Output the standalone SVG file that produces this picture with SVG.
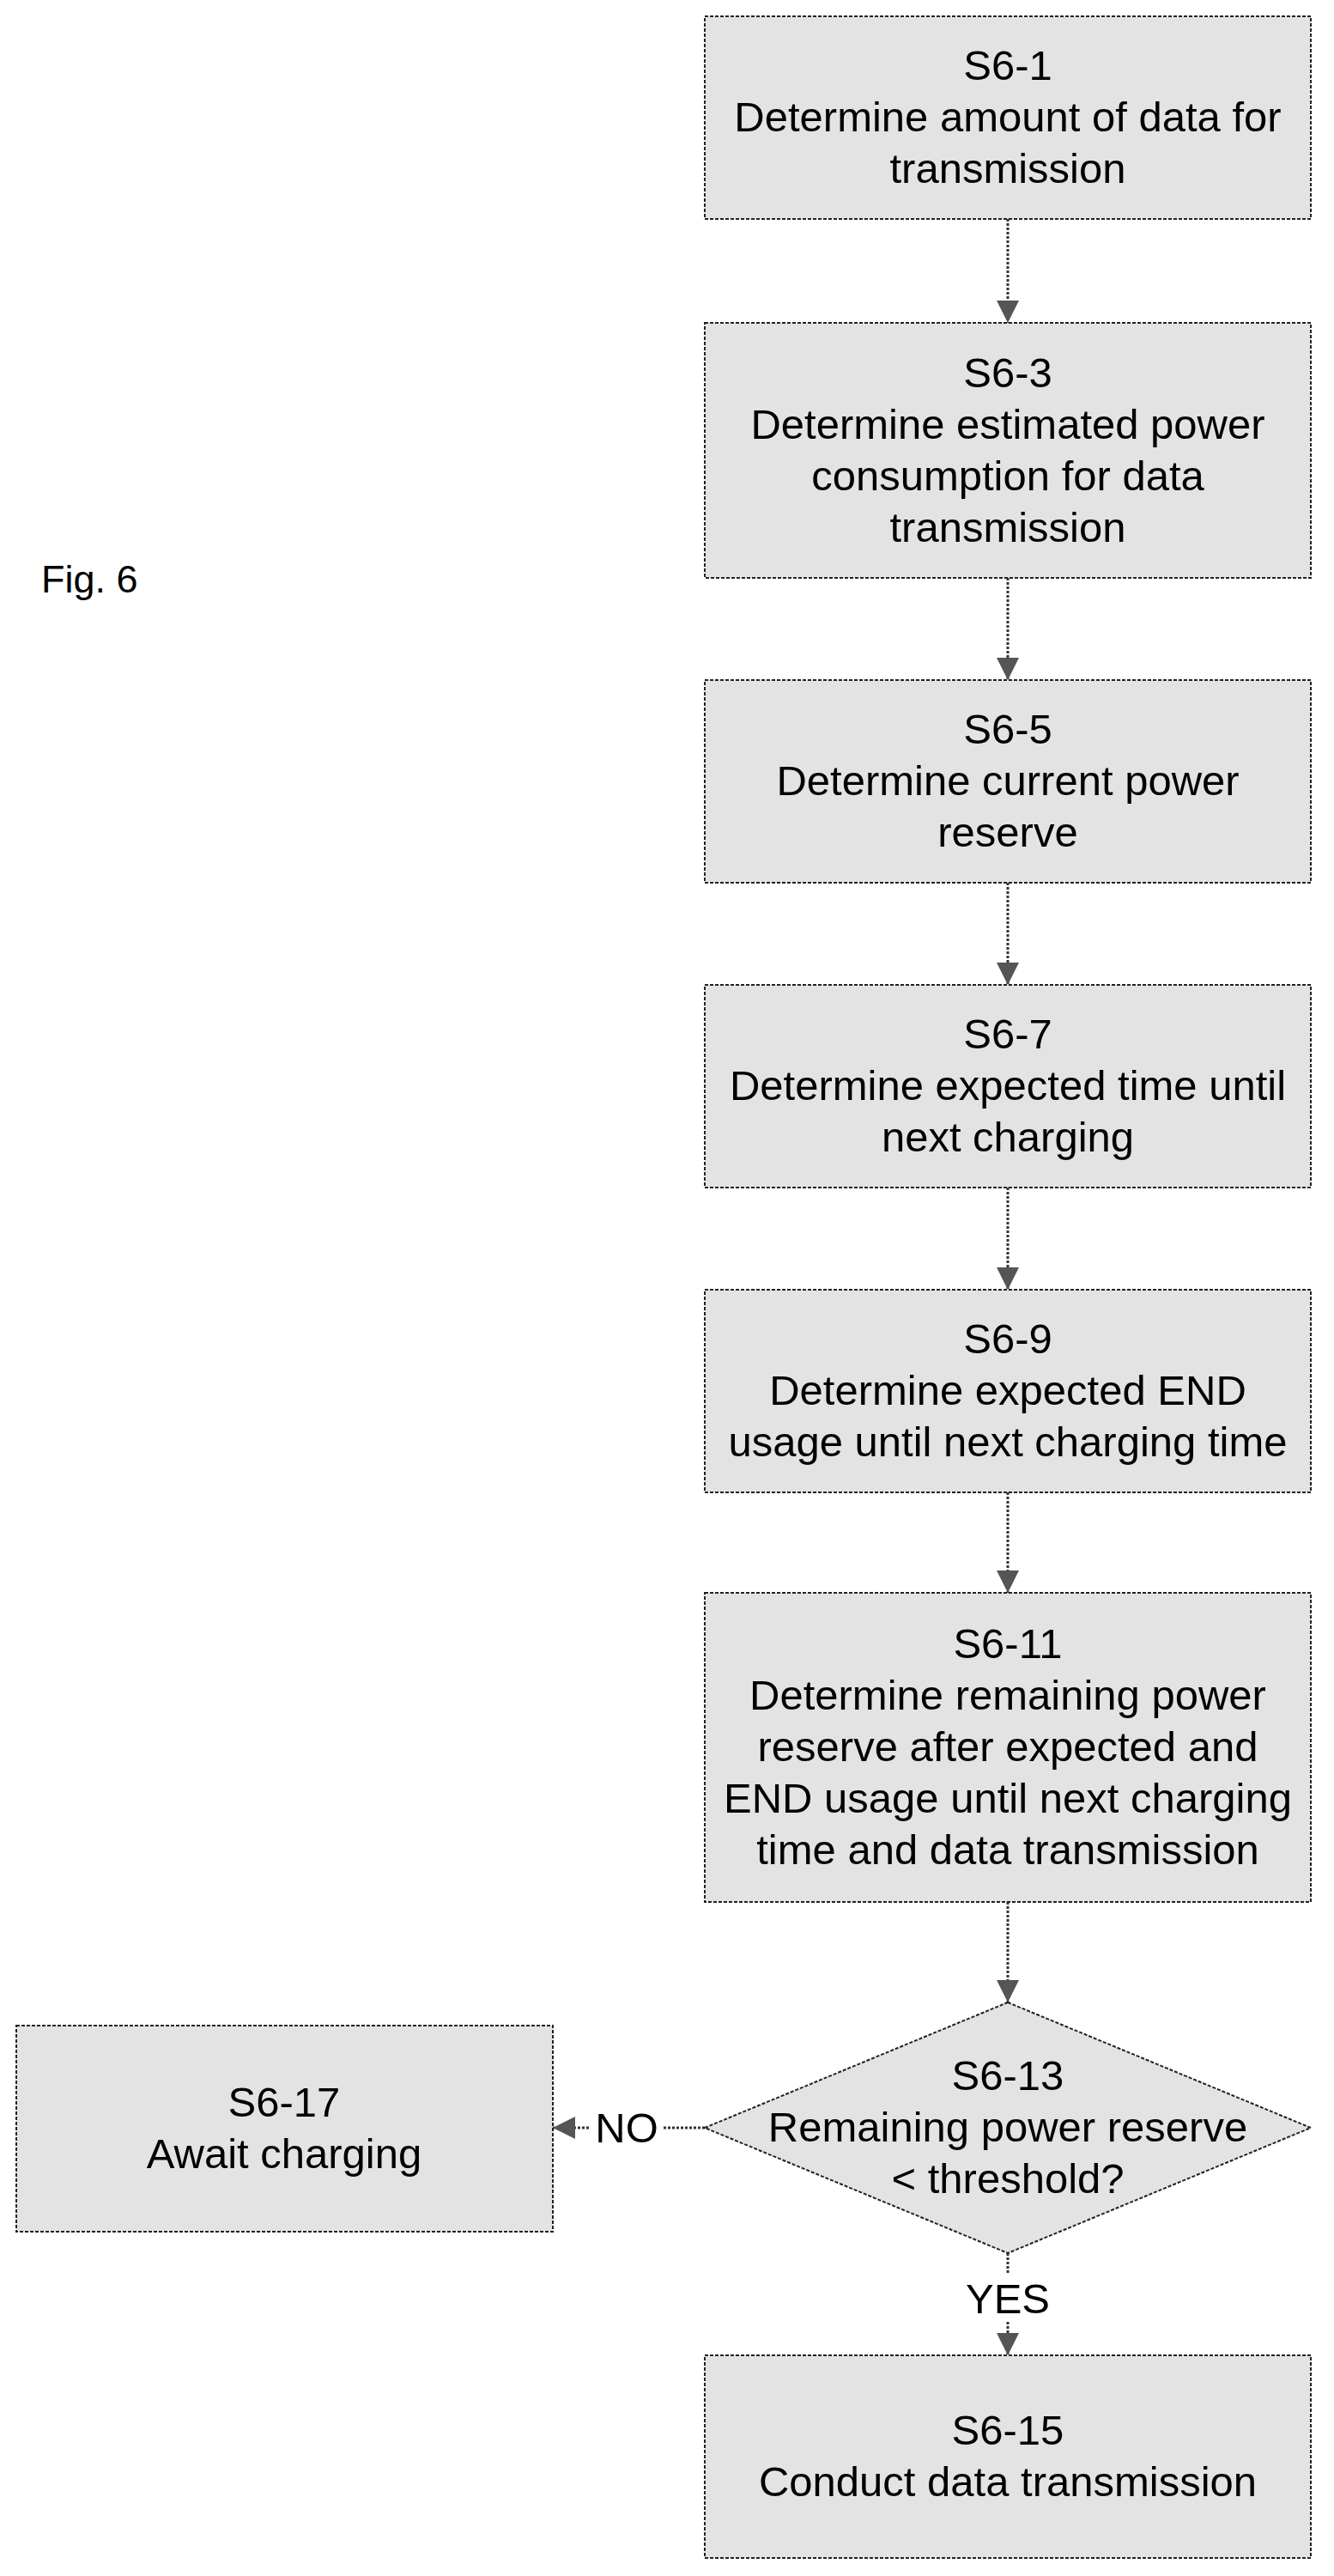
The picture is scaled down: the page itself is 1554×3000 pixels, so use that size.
<svg xmlns="http://www.w3.org/2000/svg" width="1554" height="3000" viewBox="0 0 1554 3000">
<style>
.n{fill:#e3e3e3;stroke:#222;stroke-width:2;stroke-dasharray:4 2}
text{font-family:"Liberation Sans",Arial,sans-serif;font-size:49px;fill:#000;text-anchor:middle}
.c{stroke:#333;stroke-width:3;stroke-dasharray:3 2;fill:none}
</style>
<defs><marker id="ah" viewBox="0 0 10 10" refX="10" refY="5" markerWidth="26" markerHeight="26" markerUnits="userSpaceOnUse" orient="auto"><path d="M0 0L10 5L0 10z" fill="#555"/></marker></defs>
<text x="48" y="690" style="text-anchor:start;font-size:45px">Fig. 6</text>
<g id="connectors">
<path class="c" d="M1174 255V376" marker-end="url(#ah)"/>
<path class="c" d="M1174 673V792" marker-end="url(#ah)"/>
<path class="c" d="M1174 1028V1147" marker-end="url(#ah)"/>
<path class="c" d="M1174 1383V1502" marker-end="url(#ah)"/>
<path class="c" d="M1174 1738V1855" marker-end="url(#ah)"/>
<path class="c" d="M1174 2215V2332" marker-end="url(#ah)"/>
<path class="c" d="M821 2478H772"/>
<path class="c" d="M686 2478H644" marker-end="url(#ah)"/>
<text x="730" y="2495">NO</text>
<path class="c" d="M1174 2624V2648"/>
<path class="c" d="M1174 2704V2743" marker-end="url(#ah)"/>
<text x="1174" y="2694">YES</text>
</g>
<g id="s1"><rect class="n" x="821" y="19" width="706" height="236"/><text x="1174" y="93">S6-1</text><text x="1174" y="153">Determine amount of data for</text><text x="1174" y="213">transmission</text></g>
<g id="s3"><rect class="n" x="821" y="376" width="706" height="297"/><text x="1174" y="451">S6-3</text><text x="1174" y="511">Determine estimated power</text><text x="1174" y="571">consumption for data</text><text x="1174" y="631">transmission</text></g>
<g id="s5"><rect class="n" x="821" y="792" width="706" height="236"/><text x="1174" y="866">S6-5</text><text x="1174" y="926">Determine current power</text><text x="1174" y="986">reserve</text></g>
<g id="s7"><rect class="n" x="821" y="1147" width="706" height="236"/><text x="1174" y="1221">S6-7</text><text x="1174" y="1281">Determine expected time until</text><text x="1174" y="1341">next charging</text></g>
<g id="s9"><rect class="n" x="821" y="1502" width="706" height="236"/><text x="1174" y="1576">S6-9</text><text x="1174" y="1636">Determine expected END</text><text x="1174" y="1696">usage until next charging time</text></g>
<g id="s11"><rect class="n" x="821" y="1855" width="706" height="360"/><text x="1174" y="1931">S6-11</text><text x="1174" y="1991">Determine remaining power</text><text x="1174" y="2051">reserve after expected and</text><text x="1174" y="2111">END usage until next charging</text><text x="1174" y="2171">time and data transmission</text></g>
<g id="s13"><polygon class="n" points="1174,2332 1527,2478 1174,2624 821,2478"/><text x="1174" y="2434">S6-13</text><text x="1174" y="2494">Remaining power reserve</text><text x="1174" y="2554">&lt; threshold?</text></g>
<g id="s17"><rect class="n" x="19" y="2359" width="625" height="240"/><text x="331" y="2465">S6-17</text><text x="331" y="2525">Await charging</text></g>
<g id="s15"><rect class="n" x="821" y="2743" width="706" height="236"/><text x="1174" y="2847">S6-15</text><text x="1174" y="2907">Conduct data transmission</text></g>
</svg>
